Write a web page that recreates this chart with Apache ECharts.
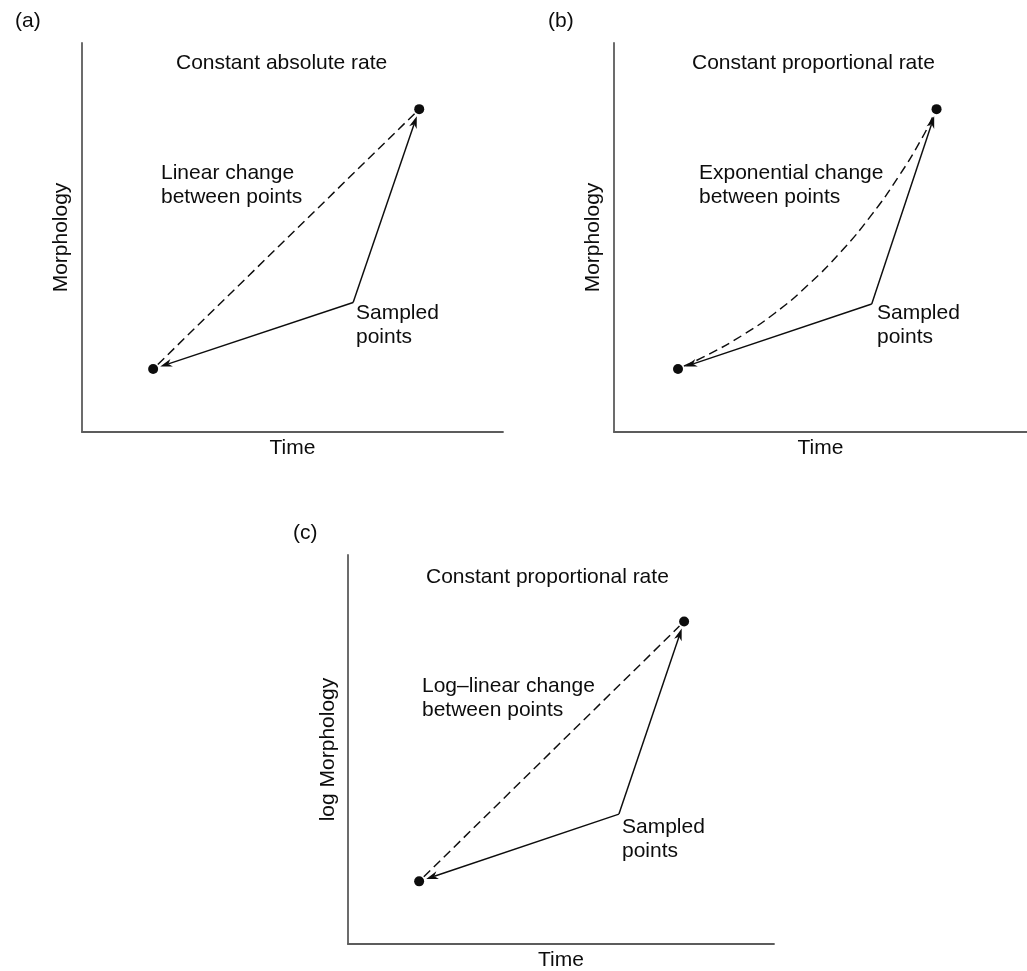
<!DOCTYPE html>
<html>
<head>
<meta charset="utf-8">
<script src="https://cdn.jsdelivr.net/npm/echarts@6/dist/echarts.min.js"></script>
<style>
  html, body { margin: 0; padding: 0; background: #fff; }
  #chart { width: 1027px; height: 971px; }
</style>
</head>
<body>
<div id="chart"></div>
<script>
// Two sampled (time, morphology) observations per panel
const sampledA = [[16.9, 16.2], [80.1, 83.0]];
const sampledB = [[15.5, 16.2], [78.1, 83.0]];
const sampledC = [[16.7, 16.1], [78.9, 82.9]];

// Origin of the "Sampled points" pointers in each panel
const pointerA = [64.4, 33.3];
const pointerB = [62.4, 32.9];
const pointerC = [63.6, 33.4];

// Exponential trajectory between the two observations of panel (b)
const expPathB = [
  [15.5, 16.2], [23, 20], [31, 24.8], [39, 30.6], [47, 37.8],
  [55, 46.4], [62.5, 56], [69, 65.8], [74.5, 75.4], [78.1, 83.0]
];

const panelLetters = ['(a)', '(b)', '(c)'];
const panelTitles = ['Constant absolute rate', 'Constant proportional rate', 'Constant proportional rate'];
const changeNotes = ['Linear change\nbetween points', 'Exponential change\nbetween points', 'Log\u2013linear change\nbetween points'];
const pointerNote = 'Sampled\npoints';
const xNames = ['Time', 'Time', 'Time'];
const yNames = ['Morphology', 'Morphology', 'log Morphology'];

const FONT = '"Liberation Sans", Arial, Helvetica, sans-serif';
const INK = '#0d0d0d';
const AXIS_INK = '#5c5c5c';
const FS = 21;

const grids = [
  { left: 82, top: 43, width: 421, height: 389 },
  { left: 614, top: 43, width: 413, height: 389 },
  { left: 348, top: 555, width: 426, height: 389 }
];

function axisCommon(i) {
  return {
    type: 'value', gridIndex: i, min: 0, max: 100,
    axisLine: { show: true, onZero: false, lineStyle: { color: AXIS_INK, width: 1.8 } },
    axisTick: { show: false }, axisLabel: { show: false }, splitLine: { show: false },
    nameLocation: 'middle',
    nameTextStyle: { color: INK, fontSize: FS, fontFamily: FONT }
  };
}

// Straight pointer from the label anchor to a sampled point, ending in a notched arrowhead
function renderPointer(params, api) {
  const from = api.coord([api.value(0), api.value(1)]);
  const to = api.coord([api.value(2), api.value(3)]);
  const dx = to[0] - from[0], dy = to[1] - from[1];
  const len = Math.hypot(dx, dy);
  const ux = dx / len, uy = dy / len, nx = -uy, ny = ux;
  const gap = 7.5, headLen = 12, headHalf = 4, notch = 8.5;
  const tip = [to[0] - ux * gap, to[1] - uy * gap];
  const back = [tip[0] - ux * headLen, tip[1] - uy * headLen];
  const neck = [tip[0] - ux * notch, tip[1] - uy * notch];
  return {
    type: 'group',
    children: [
      { type: 'line', shape: { x1: from[0], y1: from[1], x2: neck[0], y2: neck[1] },
        style: { stroke: INK, lineWidth: 1.45 } },
      { type: 'polygon',
        shape: { points: [tip, [back[0] + nx * headHalf, back[1] + ny * headHalf], neck,
                          [back[0] - nx * headHalf, back[1] - ny * headHalf]] },
        style: { fill: INK } }
    ]
  };
}

// Dashed trajectory through all points of the series, pulled back slightly from the end dots
function dashedRenderer(smooth) {
  return function (params, api) {
    if (params.dataIndexInside !== 0) return null;
    const n = params.dataInsideLength;
    const pts = [];
    for (let k = 0; k < n; k++) pts.push(api.coord([api.value(0, k), api.value(1, k)]));
    const gap = 6.5;
    const pull = (a, b) => {
      const d = Math.hypot(b[0] - a[0], b[1] - a[1]);
      return [a[0] + (b[0] - a[0]) * gap / d, a[1] + (b[1] - a[1]) * gap / d];
    };
    pts[0] = pull(pts[0], pts[1]);
    pts[n - 1] = pull(pts[n - 1], pts[n - 2]);
    return {
      type: 'polyline',
      shape: { points: pts, smooth: smooth },
      style: { stroke: INK, lineWidth: 1.45, lineDash: [9, 5], fill: null }
    };
  };
}

const sampled = [sampledA, sampledB, sampledC];
const pointers = [pointerA, pointerB, pointerC];
const paths = [sampledA, expPathB, sampledC];

const series = [];
for (let i = 0; i < 3; i++) {
  series.push({
    type: 'custom', xAxisIndex: i, yAxisIndex: i, silent: true,
    renderItem: dashedRenderer(i === 1 ? 0.5 : 0),
    data: paths[i], z: 2
  });
  series.push({
    type: 'custom', xAxisIndex: i, yAxisIndex: i, silent: true,
    renderItem: renderPointer,
    data: sampled[i].map(p => [pointers[i][0], pointers[i][1], p[0], p[1]]), z: 3
  });
  series.push({
    type: 'scatter', xAxisIndex: i, yAxisIndex: i, silent: true,
    symbol: 'circle', symbolSize: 10, itemStyle: { color: INK, opacity: 1 },
    data: sampled[i], z: 4
  });
}

// Annotation text: [panel, text, left x, centre y of first line]
const textSpots = [
  [0, panelLetters[0], 15, 21], [1, panelLetters[1], 548, 21], [2, panelLetters[2], 293, 533],
  [0, panelTitles[0], 176, 63], [1, panelTitles[1], 692, 63], [2, panelTitles[2], 426, 577],
  [0, changeNotes[0], 161, 173], [1, changeNotes[1], 699, 173], [2, changeNotes[2], 422, 686],
  [0, pointerNote, 356, 313], [1, pointerNote, 877, 313], [2, pointerNote, 622, 827]
];

const graphic = textSpots.map(t => ({
  type: 'text', x: t[2], y: t[3] - 12, silent: true,
  style: { text: t[1], fill: INK, fontSize: FS, fontFamily: FONT, lineHeight: 24, verticalAlign: 'top', align: 'left' }
}));

const chart = echarts.init(document.getElementById('chart'), null, { renderer: 'canvas' });
chart.setOption({
  animation: false,
  backgroundColor: '#fff',
  grid: grids.map(g => Object.assign({ containLabel: false, outerBoundsMode: 'none' }, g)),
  xAxis: [0, 1, 2].map(i => Object.assign(axisCommon(i), { name: xNames[i], nameGap: 6 })),
  yAxis: [0, 1, 2].map(i => Object.assign(axisCommon(i), { name: yNames[i], nameGap: i === 2 ? 9 : 10 })),
  graphic: graphic,
  series: series
});
</script>
</body>
</html>
